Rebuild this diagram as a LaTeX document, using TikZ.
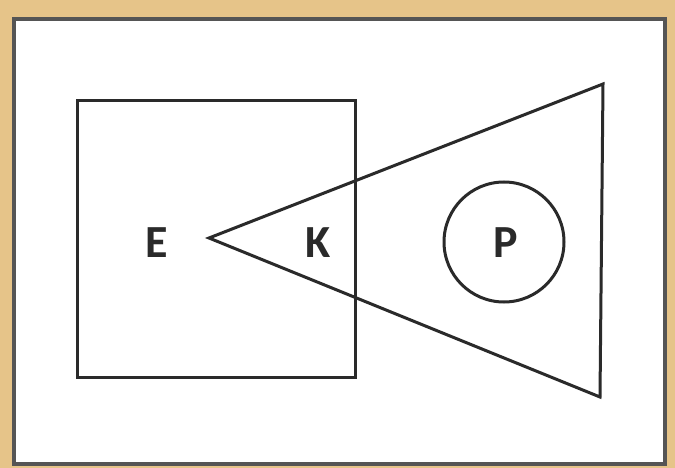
\documentclass[tikz,border=0pt]{standalone}
\usepackage{fontspec}
\setmainfont{Carlito}
\definecolor{tan}{HTML}{E6C489}
\definecolor{ink}{HTML}{2A2A2A}
\begin{document}
\begin{tikzpicture}[x=1pt,y=-1pt,
  shape line/.style={draw=ink,line width=3pt,line join=miter},
  lbl/.style={font=\fontsize{46}{50}\selectfont\bfseries,text=ink,inner sep=0pt}]
\fill[tan] (0,0) rectangle (675,468);
\useasboundingbox (0,0) rectangle (675,468);
\draw[draw=ink!80,line width=4pt,fill=white] (14,19) rectangle (665,464);
\coordinate (sq1) at (77,101);
\coordinate (sq2) at (355,377);
\draw[shape line] (sq1) rectangle (sq2);
\coordinate (tv) at (209,238);
\coordinate (tt) at (603,84);
\coordinate (tb) at (600,397);
\draw[shape line] (tv) -- (tt) -- (tb) -- cycle;
\node[shape line,circle,minimum size=120pt,inner sep=0pt] (circ) at (504,242) {};
\node[lbl] (E) at (157,243) {E};
\node[lbl] (K) at (318,243) {K};
\node[lbl] (P) at (506,243) {P};
\end{tikzpicture}
\end{document}
